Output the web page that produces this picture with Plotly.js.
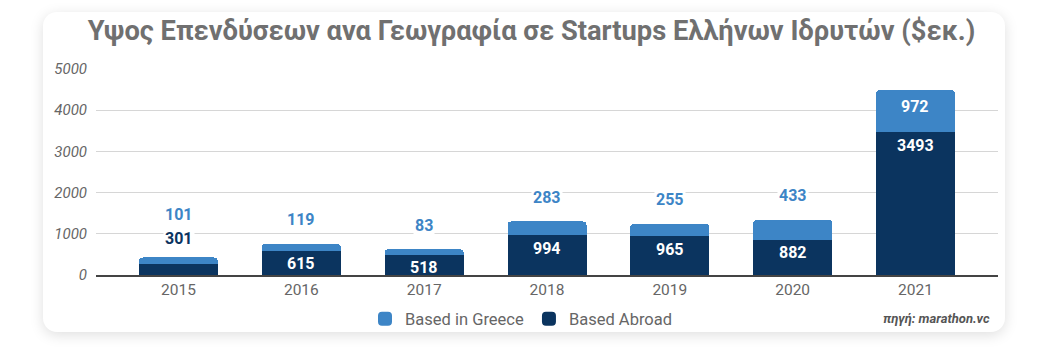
<!DOCTYPE html>
<html>
<head>
<meta charset="utf-8">
<script src="https://cdn.plot.ly/plotly-3.0.1.min.js"></script>
<style>
  html, body { margin: 0; padding: 0; background: #ffffff; width: 1043px; height: 357px; overflow: hidden; }
  #card { position: absolute; left: 43px; top: 12px; width: 962px; height: 320px; background: #ffffff;
          border-radius: 14px; box-shadow: 0 3px 14px rgba(0,0,0,0.13); }
  #chart { position: absolute; left: 0; top: 0; width: 1043px; height: 357px; }
</style>
</head>
<body>
<div id="card"></div>
<div id="chart"></div>
<script>
const years = ['2015', '2016', '2017', '2018', '2019', '2020', '2021'];
const basedInGreece = [101, 119, 83, 283, 255, 433, 972];
const basedAbroad = [301, 615, 518, 994, 965, 882, 3493];
const yTicks = [0, 1000, 2000, 3000, 4000, 5000];

const colGreece = '#3d85c6';
const colAbroad = '#0b345f';

const traces = [
  { type: 'bar', name: 'Based Abroad', x: years, y: basedAbroad,
    marker: { color: colAbroad, line: { color: colAbroad, width: 2 } }, hoverinfo: 'skip' },
  { type: 'bar', name: 'Based in Greece', x: years, y: basedInGreece,
    marker: { color: colGreece, line: { color: colGreece, width: 2 } }, hoverinfo: 'skip' }
];

const annotations = [];
years.forEach((yr, i) => {
  const a = basedAbroad[i], g = basedInGreece[i], total = a + g;
  const abroadInside = a >= 400;
  const greeceInside = g >= 600;
  annotations.push({
    x: i, y: abroadInside ? a : total, xref: 'x', yref: 'y', showarrow: false,
    text: '<b>' + a + '</b>', yanchor: 'middle', yshift: abroadInside ? -14 : 20,
    font: { family: 'Roboto, sans-serif', size: 16, color: abroadInside ? '#ffffff' : colAbroad },
    bgcolor: abroadInside ? 'rgba(0,0,0,0)' : '#ffffff'
  });
  annotations.push({
    x: i, y: total, xref: 'x', yref: 'y', showarrow: false,
    text: '<b>' + g + '</b>', yanchor: 'middle',
    yshift: greeceInside ? -15 : (25 + (abroadInside ? 0 : 19)),
    font: { family: 'Roboto, sans-serif', size: 16, color: greeceInside ? '#ffffff' : colGreece },
    bgcolor: greeceInside ? 'rgba(0,0,0,0)' : '#ffffff'
  });
});
annotations.push({
  xref: 'paper', yref: 'paper', x: (992 - 96) / 902, y: (275 - 318) / 206, xanchor: 'right', yanchor: 'middle',
  showarrow: false, text: '<b><i>πηγή: marathon.vc</i></b>',
  font: { family: 'Roboto, sans-serif', size: 13, color: '#555555' }
});

const layout = {
  width: 1043, height: 357,
  paper_bgcolor: 'rgba(0,0,0,0)', plot_bgcolor: 'rgba(0,0,0,0)',
  margin: { l: 96, r: 45, t: 69, b: 82 },
  barmode: 'stack', bargap: 0.373, barcornerradius: 3,
  title: {
    text: '<b>Υψος Επενδύσεων ανα Γεωγραφία σε Startups Ελλήνων Ιδρυτών ($εκ.)</b>',
    x: 531.5 / 1043, xanchor: 'center', y: 1 - 30.5 / 357, yanchor: 'middle',
    font: { family: 'Roboto, sans-serif', size: 27.3, color: '#707070' }
  },
  xaxis: {
    type: 'category', range: [-0.672, 6.672], showgrid: false, zeroline: false,
    showline: true, linecolor: '#444444', linewidth: 1.5, ticks: '',
    tickfont: { family: 'Roboto, sans-serif', size: 15.5, color: '#666666' },
    ticklabelstandoff: 0, fixedrange: true
  },
  yaxis: {
    range: [0, 5000], tickvals: yTicks, ticktext: yTicks.map(String),
    showgrid: true, gridcolor: '#d6d6d6', gridwidth: 1, zeroline: false, showline: false, ticks: '',
    tickfont: { family: 'Roboto, sans-serif', size: 15, color: '#666666', style: 'italic' },
    ticklabelstandoff: 8, fixedrange: true
  },
  showlegend: true,
  legend: {
    orientation: 'h', traceorder: 'reversed', x: (365 - 96) / 902, xanchor: 'left', y: (275 - 319) / 206, yanchor: 'middle',
    font: { family: 'Roboto, sans-serif', size: 16.5, color: '#666666' }, bgcolor: 'rgba(0,0,0,0)'
  },
  annotations: annotations
};

Plotly.newPlot('chart', traces, layout, { displayModeBar: false, staticPlot: true });
</script>
</body>
</html>
